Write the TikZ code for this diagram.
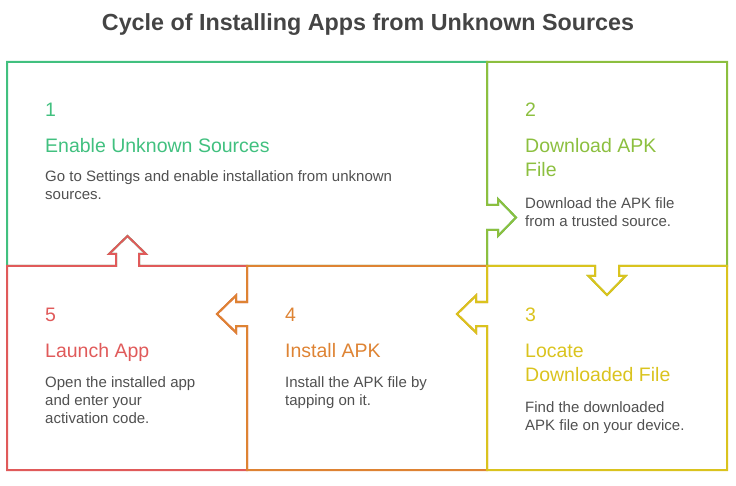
\documentclass[tikz,border=0pt]{standalone}
\usepackage{fontspec}
\setmainfont{Liberation Sans}
\usetikzlibrary{positioning}

\definecolor{cgreen}{HTML}{41C07F}
\definecolor{clime}{HTML}{8CBF3F}
\definecolor{cyellow}{HTML}{DAC31E}
\definecolor{corange}{HTML}{DE8333}
\definecolor{cred}{HTML}{E05A5A}
\definecolor{bodygray}{HTML}{505050}
\definecolor{titlegray}{HTML}{444444}

\begin{document}
\begin{tikzpicture}[x=1pt,y=-1pt,
    box/.style={line width=2pt, line join=miter},
    num/.style={anchor=base west, inner sep=0pt, font=\fontsize{19.5}{24}\selectfont},
    head/.style={anchor=base west, inner sep=0pt, align=left, font=\fontsize{19.5}{24}\selectfont},
    desc/.style={anchor=base west, inner sep=0pt, align=left, text=bodygray, font=\fontsize{15}{18}\selectfont}
]
\useasboundingbox (0,0) rectangle (736,486);

\node[anchor=base, inner sep=0pt, text=titlegray, font=\bfseries\fontsize{23.3}{28}\selectfont] (title) at (368,31)
    {Cycle of Installing Apps from Unknown Sources};

% outlines, later ones cover shared edges
\draw[box, cgreen] (7,62) -- (487,62) -- (487,205) -- (498,205) -- (498,199) -- (516,217.5) -- (498,236) -- (498,230) -- (487,230)
    -- (487,266) -- (139,266) -- (139,254) -- (146,254) -- (127.5,236) -- (109,254) -- (116,254) -- (116,266) -- (7,266) -- cycle;
\draw[box, clime] (487,62) -- (727,62) -- (727,266) -- (619,266) -- (619,276) -- (625.5,276) -- (607,295) -- (588.5,276) -- (595,276)
    -- (595,266) -- (487,266) -- (487,230) -- (498,230) -- (498,236) -- (516,217.5) -- (498,199) -- (498,205) -- (487,205) -- cycle;
\draw[box, cred] (7,266) -- (116,266) -- (116,254) -- (109,254) -- (127.5,236) -- (146,254) -- (139,254) -- (139,266) -- (247,266)
    -- (247,302) -- (236,302) -- (236,295.5) -- (217,314) -- (236,332.5) -- (236,326) -- (247,326) -- (247,470) -- (7,470) -- cycle;
\draw[box, corange] (247,266) -- (487,266) -- (487,302) -- (476,302) -- (476,295.5) -- (457,314) -- (476,332.5) -- (476,326) -- (487,326)
    -- (487,470) -- (247,470) -- (247,326) -- (236,326) -- (236,332.5) -- (217,314) -- (236,295.5) -- (236,302) -- (247,302) -- cycle;
\draw[box, cyellow] (487,266) -- (595,266) -- (595,276) -- (588.5,276) -- (607,295) -- (625.5,276) -- (619,276) -- (619,266) -- (727,266)
    -- (727,470) -- (487,470) -- (487,326) -- (476,326) -- (476,332.5) -- (457,314) -- (476,295.5) -- (476,302) -- (487,302) -- cycle;

% step texts, placed at the baseline of their last line
% step 1
\node[num, text=cgreen] (n1) at (45,117) {1};
\node[head, text=cgreen] (h1) at (45,153) {Enable Unknown Sources};
\node[desc] (d1) at (45,200) {Go to Settings and enable installation from unknown\\sources.};
% step 2
\node[num, text=clime] (n2) at (525,117) {2};
\node[head, text=clime] (h2) at (525,177) {Download APK\\File};
\node[desc] (d2) at (525,227) {Download the APK file\\from a trusted source.};
% step 3
\node[num, text=cyellow] (n3) at (525,321) {3};
\node[head, text=cyellow] (h3) at (525,381) {Locate\\Downloaded File};
\node[desc] (d3) at (525,430) {Find the downloaded\\APK file on your device.};
% step 4
\node[num, text=corange] (n4) at (285,321) {4};
\node[head, text=corange] (h4) at (285,357) {Install APK};
\node[desc] (d4) at (285,405) {Install the APK file by\\tapping on it.};
% step 5
\node[num, text=cred] (n5) at (45,321) {5};
\node[head, text=cred] (h5) at (45,357) {Launch App};
\node[desc] (d5) at (45,423) {Open the installed app\\and enter your\\activation code.};
\end{tikzpicture}
\end{document}
